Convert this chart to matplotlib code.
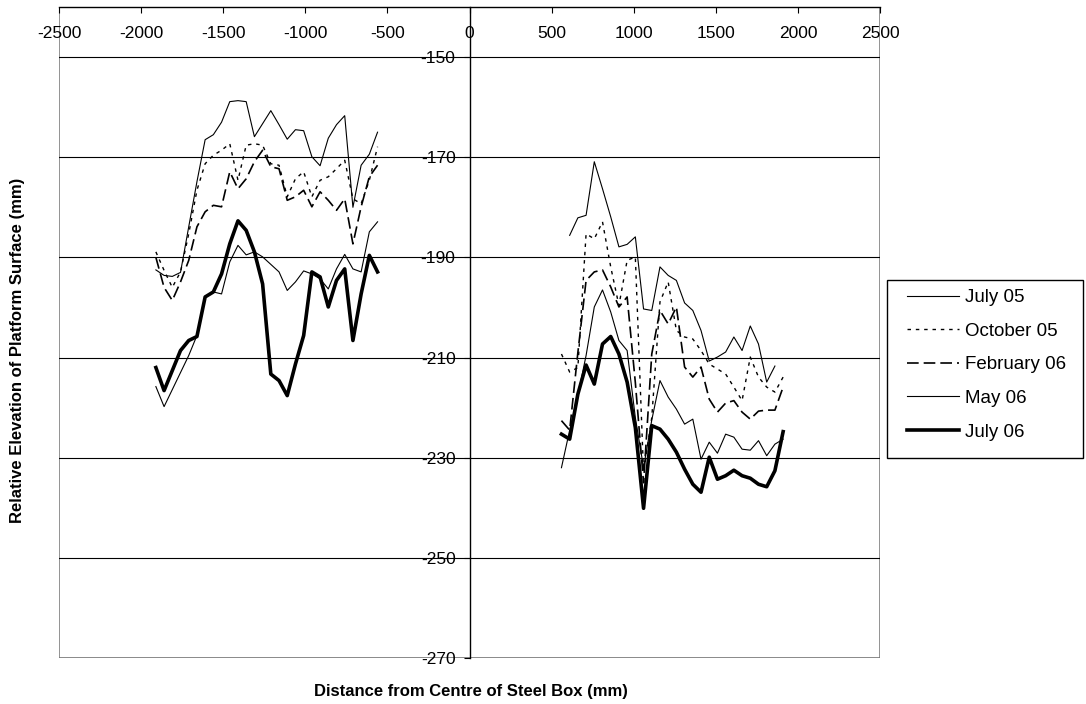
import numpy as np
import matplotlib.pyplot as plt
from matplotlib.patches import Rectangle

plt.rcParams['font.family'] = ['Liberation Sans', 'DejaVu Sans']

# measurement positions either side of the steel box (mm)
x_left = [-1910, -1860, -1810, -1760, -1710, -1660, -1610, -1560, -1510, -1460,
          -1410, -1360, -1310, -1260, -1210, -1160, -1110, -1060, -1010, -960,
          -910, -860, -810, -760, -710, -660, -610, -560]
x_right = [560, 610, 660, 710, 760, 810, 860, 910, 960, 1010,
           1060, 1110, 1160, 1210, 1260, 1310, 1360, 1410, 1460, 1510,
           1560, 1610, 1660, 1710, 1760, 1810, 1860, 1910]

# relative elevations (mm)
july05_left = [-192.5, -193.6, -193.8, -193.0, -183.9, -174.9, -166.5, -165.5, -163.0, -158.9,
               -158.7, -158.9, -165.9, -163.3, -160.7, -163.5, -166.4, -164.5, -164.7, -169.9,
               -171.7, -166.2, -163.5, -161.7, -180.0, -171.6, -169.4, -165.0]
july05_right = [np.nan, -185.6, -182.1, -181.6, -170.9, -176.3, -181.9, -187.9, -187.4, -185.9,
                -200.3, -200.6, -191.9, -193.6, -194.6, -199.1, -200.6, -204.6, -210.7, -209.9,
                -208.9, -205.9, -208.6, -203.7, -207.3, -214.9, -211.7, np.nan]

oct05_left = [-188.9, -192.6, -196.0, -192.9, -185.3, -176.6, -171.3, -169.6, -168.6, -167.3,
              -174.6, -167.6, -167.3, -167.6, -171.3, -171.6, -177.9, -174.3, -172.9, -177.9,
              -174.6, -173.9, -172.3, -170.6, -178.3, -179.3, -174.6, -167.9]
oct05_right = [-209.3, -212.9, -212.0, -185.3, -186.3, -182.9, -191.9, -199.6, -190.6, -189.9,
               -233.0, -222.0, -198.9, -194.9, -204.6, -205.9, -206.3, -208.6, -211.3, -212.3,
               -213.3, -215.9, -218.6, -209.9, -213.9, -215.9, -216.9, -213.9]

feb06_left = [-190.0, -196.0, -198.6, -194.9, -190.6, -183.9, -180.9, -179.6, -179.9, -172.9,
              -176.3, -174.3, -170.9, -168.6, -171.9, -172.3, -178.6, -177.9, -176.6, -179.9,
              -176.9, -178.6, -180.6, -178.3, -187.3, -179.9, -173.9, -171.6]
feb06_right = [-222.6, -224.5, -209.0, -194.6, -192.9, -192.5, -195.9, -199.9, -197.9, -215.0,
               -235.0, -209.3, -200.6, -203.3, -199.9, -211.9, -213.9, -211.9, -218.3, -220.9,
               -219.1, -218.6, -220.9, -222.3, -220.7, -220.5, -220.5, -215.9]

may06_left = [-215.8, -219.8, -216.4, -213.0, -209.6, -205.6, -197.9, -196.9, -197.3, -190.9,
              -187.6, -189.5, -188.9, -189.9, -191.4, -192.9, -196.6, -194.9, -192.7, -193.3,
              -194.3, -196.3, -192.3, -189.4, -192.3, -192.9, -184.9, -182.9]
may06_right = [-232.0, -224.5, -217.5, -209.6, -199.9, -196.5, -200.9, -206.6, -208.6, -222.0,
               -232.0, -222.5, -214.6, -217.9, -220.3, -223.3, -222.3, -230.3, -226.9, -229.1,
               -225.3, -225.9, -228.3, -228.5, -226.6, -229.6, -227.3, -226.3]

july06_left = [-212.0, -216.6, -212.6, -208.6, -206.6, -205.8, -197.9, -196.9, -193.3, -187.3,
               -182.7, -184.6, -188.9, -195.3, -213.3, -214.6, -217.6, -211.3, -205.6, -192.9,
               -193.9, -199.9, -194.6, -192.3, -206.6, -197.3, -189.6, -192.9]
july06_right = [-225.3, -226.3, -217.3, -211.5, -215.3, -207.3, -205.8, -209.3, -214.9, -224.0,
                -240.1, -223.6, -224.3, -226.3, -228.9, -232.3, -235.3, -236.9, -229.9, -234.3,
                -233.6, -232.5, -233.6, -234.1, -235.3, -235.8, -232.6, -224.8]

series = [
    ("July 05", july05_left, july05_right, dict(lw=0.8, ls="-")),
    ("October 05", oct05_left, oct05_right, dict(lw=1.0, ls=(0, (2.5, 3.5)))),
    ("February 06", feb06_left, feb06_right, dict(lw=1.2, ls=(0, (7, 3)))),
    ("May 06", may06_left, may06_right, dict(lw=0.8, ls="-")),
    ("July 06", july06_left, july06_right, dict(lw=2.6, ls="-")),
]

yticks = [-270, -250, -230, -210, -190, -170, -150]
xticks = [-2500, -2000, -1500, -1000, -500, 0, 500, 1000, 1500, 2000, 2500]

W, H = 1086, 704
fig = plt.figure(figsize=(W / 100, H / 100), dpi=100)
ax = fig.add_axes([59 / W, 1 - 658 / H, 821 / W, 651 / H])

for label, left, right, style in series:
    ax.plot(x_left, left, color="black", label=label, **style)
    ax.plot(x_right, right, color="black", **style)

ax.set_xlim(-2500, 2500)
ax.set_ylim(-270, -140)
ax.set_xticks(xticks)
ax.set_yticks(yticks)
ax.set_xticklabels([str(v) for v in xticks])
ax.set_yticklabels([str(v) for v in yticks])

# x axis sits along the top edge, y axis through zero
ax.spines["bottom"].set_position(("data", -140))
ax.spines["left"].set_position(("data", 0))
ax.spines["bottom"].set_linewidth(1.0)
ax.spines["left"].set_linewidth(1.0)
ax.spines["top"].set_visible(False)
ax.spines["right"].set_visible(False)
ax.add_patch(Rectangle((0, 0), 1, 1, transform=ax.transAxes, fill=False,
                       edgecolor="#808080", lw=1.2, zorder=0.5))

ax.tick_params(axis="x", direction="out", length=4.5, width=0.8, pad=9, labelsize=12.5)
ax.tick_params(axis="y", direction="out", length=4.5, width=0.8, pad=5.5, labelsize=12.5)
ax.grid(axis="y", color="black", lw=0.8)
ax.set_axisbelow(True)

fig.text(0.4337, 0.018, "Distance from Centre of Steel Box (mm)", ha="center",
         va="center", fontsize=12, fontweight="bold")
fig.text(0.016, 0.503, "Relative Elevation of Platform Surface (mm)", ha="center",
         va="center", rotation=90, fontsize=12, fontweight="bold")

# legend entries without their own frame; box drawn separately
leg = ax.legend(loc="upper left", bbox_to_anchor=(907 / W, 1 - 289 / H),
                bbox_transform=fig.transFigure, fontsize=13.5, frameon=False,
                handlelength=2.77, handletextpad=0.32, labelspacing=0.88,
                borderpad=0, borderaxespad=0)
fig.add_artist(Rectangle((887 / W, 1 - 458 / H), 196 / W, 178 / H,
                         transform=fig.transFigure, fill=False,
                         edgecolor="black", lw=1.0))

fig.savefig("out.png", dpi=100)
